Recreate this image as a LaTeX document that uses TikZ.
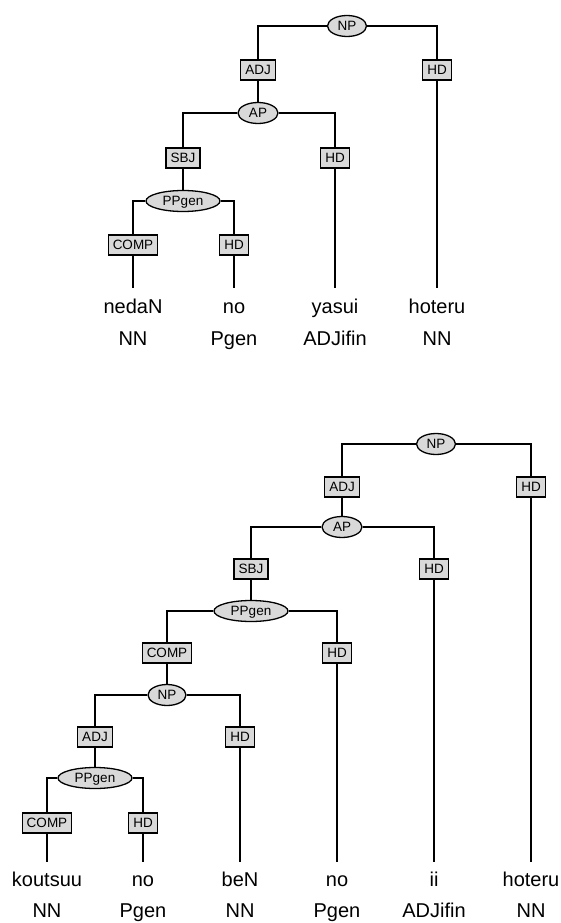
\documentclass[tikz,border=0pt]{standalone}
\usepackage{fontspec}
\setmainfont{Liberation Sans}
\usetikzlibrary{shapes.geometric}
\begin{document}
\begin{tikzpicture}[x=1pt,y=-1pt,
  lbl/.style={draw=black, fill=gray!30, line width=1.3pt, font=\fontsize{13.5}{14}\selectfont, minimum height=20pt, inner xsep=4.5pt, inner ysep=0pt, text height=9.7pt, text depth=0pt},
  ell/.style={ellipse, draw=black, fill=gray!30, line width=1.3pt, font=\fontsize{13.5}{14}\selectfont, minimum height=21pt, inner sep=0pt, text height=9.7pt, text depth=0pt},
  edge/.style={line width=1.5pt},
  word/.style={font=\fontsize{20}{24}\selectfont, anchor=base, inner sep=0pt}]
\useasboundingbox (0,0) rectangle (560,923);

% ---------- top tree ----------
\node[ell, minimum width=39pt] (np1) at (347,26) {NP};
\node[lbl] (adj1) at (258,70) {ADJ};
\node[lbl] (hd1) at (437,70) {HD};
\node[ell, minimum width=40pt] (ap1) at (258,113) {AP};
\node[lbl] (sbj1) at (183,158) {SBJ};
\node[lbl] (hd1b) at (335,158) {HD};
\node[ell, minimum width=74pt] (pp1) at (183,201) {PPgen};
\node[lbl] (comp1) at (133,245) {COMP};
\node[lbl] (hd1c) at (234,245) {HD};
\coordinate (e1a) at (133,288);
\coordinate (e1b) at (234,288);
\coordinate (e1c) at (335,288);
\coordinate (e1d) at (437,288);
\node[word] (w1a) at (133,313) {nedaN};
\node[word] (w1b) at (234,313) {no};
\node[word] (w1c) at (335,313) {yasui};
\node[word] (w1d) at (437,313) {hoteru};
\node[word] (t1a) at (133,345) {NN};
\node[word] (t1b) at (234,345) {Pgen};
\node[word] (t1c) at (335,345) {ADJifin};
\node[word] (t1d) at (437,345) {NN};

\draw[edge] (np1.west) -| (adj1.north);
\draw[edge] (np1.east) -| (hd1.north);
\draw[edge] (adj1.south) -- (ap1.north);
\draw[edge] (ap1.west) -| (sbj1.north);
\draw[edge] (ap1.east) -| (hd1b.north);
\draw[edge] (sbj1.south) -- (pp1.north);
\draw[edge] (pp1.west) -| (comp1.north);
\draw[edge] (pp1.east) -| (hd1c.north);
\draw[edge] (comp1.south) -- (e1a);
\draw[edge] (hd1c.south) -- (e1b);
\draw[edge] (hd1b.south) -- (e1c);
\draw[edge] (hd1.south) -- (e1d);

% ---------- bottom tree ----------
\node[ell, minimum width=39pt] (np2) at (436,444) {NP};
\node[lbl] (adj2) at (342,487) {ADJ};
\node[lbl] (hd2) at (531,487) {HD};
\node[ell, minimum width=40pt] (ap2) at (342,527) {AP};
\node[lbl] (sbj2) at (251,569) {SBJ};
\node[lbl] (hd2b) at (434,569) {HD};
\node[ell, minimum width=74pt] (pp2) at (251,611) {PPgen};
\node[lbl] (comp2) at (167,653) {COMP};
\node[lbl] (hd2c) at (337,653) {HD};
\node[ell, minimum width=38pt] (np3) at (167,695) {NP};
\node[lbl] (adj3) at (95,737) {ADJ};
\node[lbl] (hd3) at (240,737) {HD};
\node[ell, minimum width=74pt] (pp3) at (95,778) {PPgen};
\node[lbl] (comp3) at (47,823) {COMP};
\node[lbl] (hd3b) at (143,823) {HD};
\coordinate (e2a) at (47,862);
\coordinate (e2b) at (143,862);
\coordinate (e2c) at (240,862);
\coordinate (e2d) at (337,862);
\coordinate (e2e) at (434,862);
\coordinate (e2f) at (531,862);
\node[word] (w2a) at (47,886) {koutsuu};
\node[word] (w2b) at (143,886) {no};
\node[word] (w2c) at (240,886) {beN};
\node[word] (w2d) at (337,886) {no};
\node[word] (w2e) at (434,886) {ii};
\node[word] (w2f) at (531,886) {hoteru};
\node[word] (t2a) at (47,917) {NN};
\node[word] (t2b) at (143,917) {Pgen};
\node[word] (t2c) at (240,917) {NN};
\node[word] (t2d) at (337,917) {Pgen};
\node[word] (t2e) at (434,917) {ADJifin};
\node[word] (t2f) at (531,917) {NN};

\draw[edge] (np2.west) -| (adj2.north);
\draw[edge] (np2.east) -| (hd2.north);
\draw[edge] (adj2.south) -- (ap2.north);
\draw[edge] (ap2.west) -| (sbj2.north);
\draw[edge] (ap2.east) -| (hd2b.north);
\draw[edge] (sbj2.south) -- (pp2.north);
\draw[edge] (pp2.west) -| (comp2.north);
\draw[edge] (pp2.east) -| (hd2c.north);
\draw[edge] (comp2.south) -- (np3.north);
\draw[edge] (np3.west) -| (adj3.north);
\draw[edge] (np3.east) -| (hd3.north);
\draw[edge] (adj3.south) -- (pp3.north);
\draw[edge] (pp3.west) -| (comp3.north);
\draw[edge] (pp3.east) -| (hd3b.north);
\draw[edge] (comp3.south) -- (e2a);
\draw[edge] (hd3b.south) -- (e2b);
\draw[edge] (hd3.south) -- (e2c);
\draw[edge] (hd2c.south) -- (e2d);
\draw[edge] (hd2b.south) -- (e2e);
\draw[edge] (hd2.south) -- (e2f);
\end{tikzpicture}
\end{document}
